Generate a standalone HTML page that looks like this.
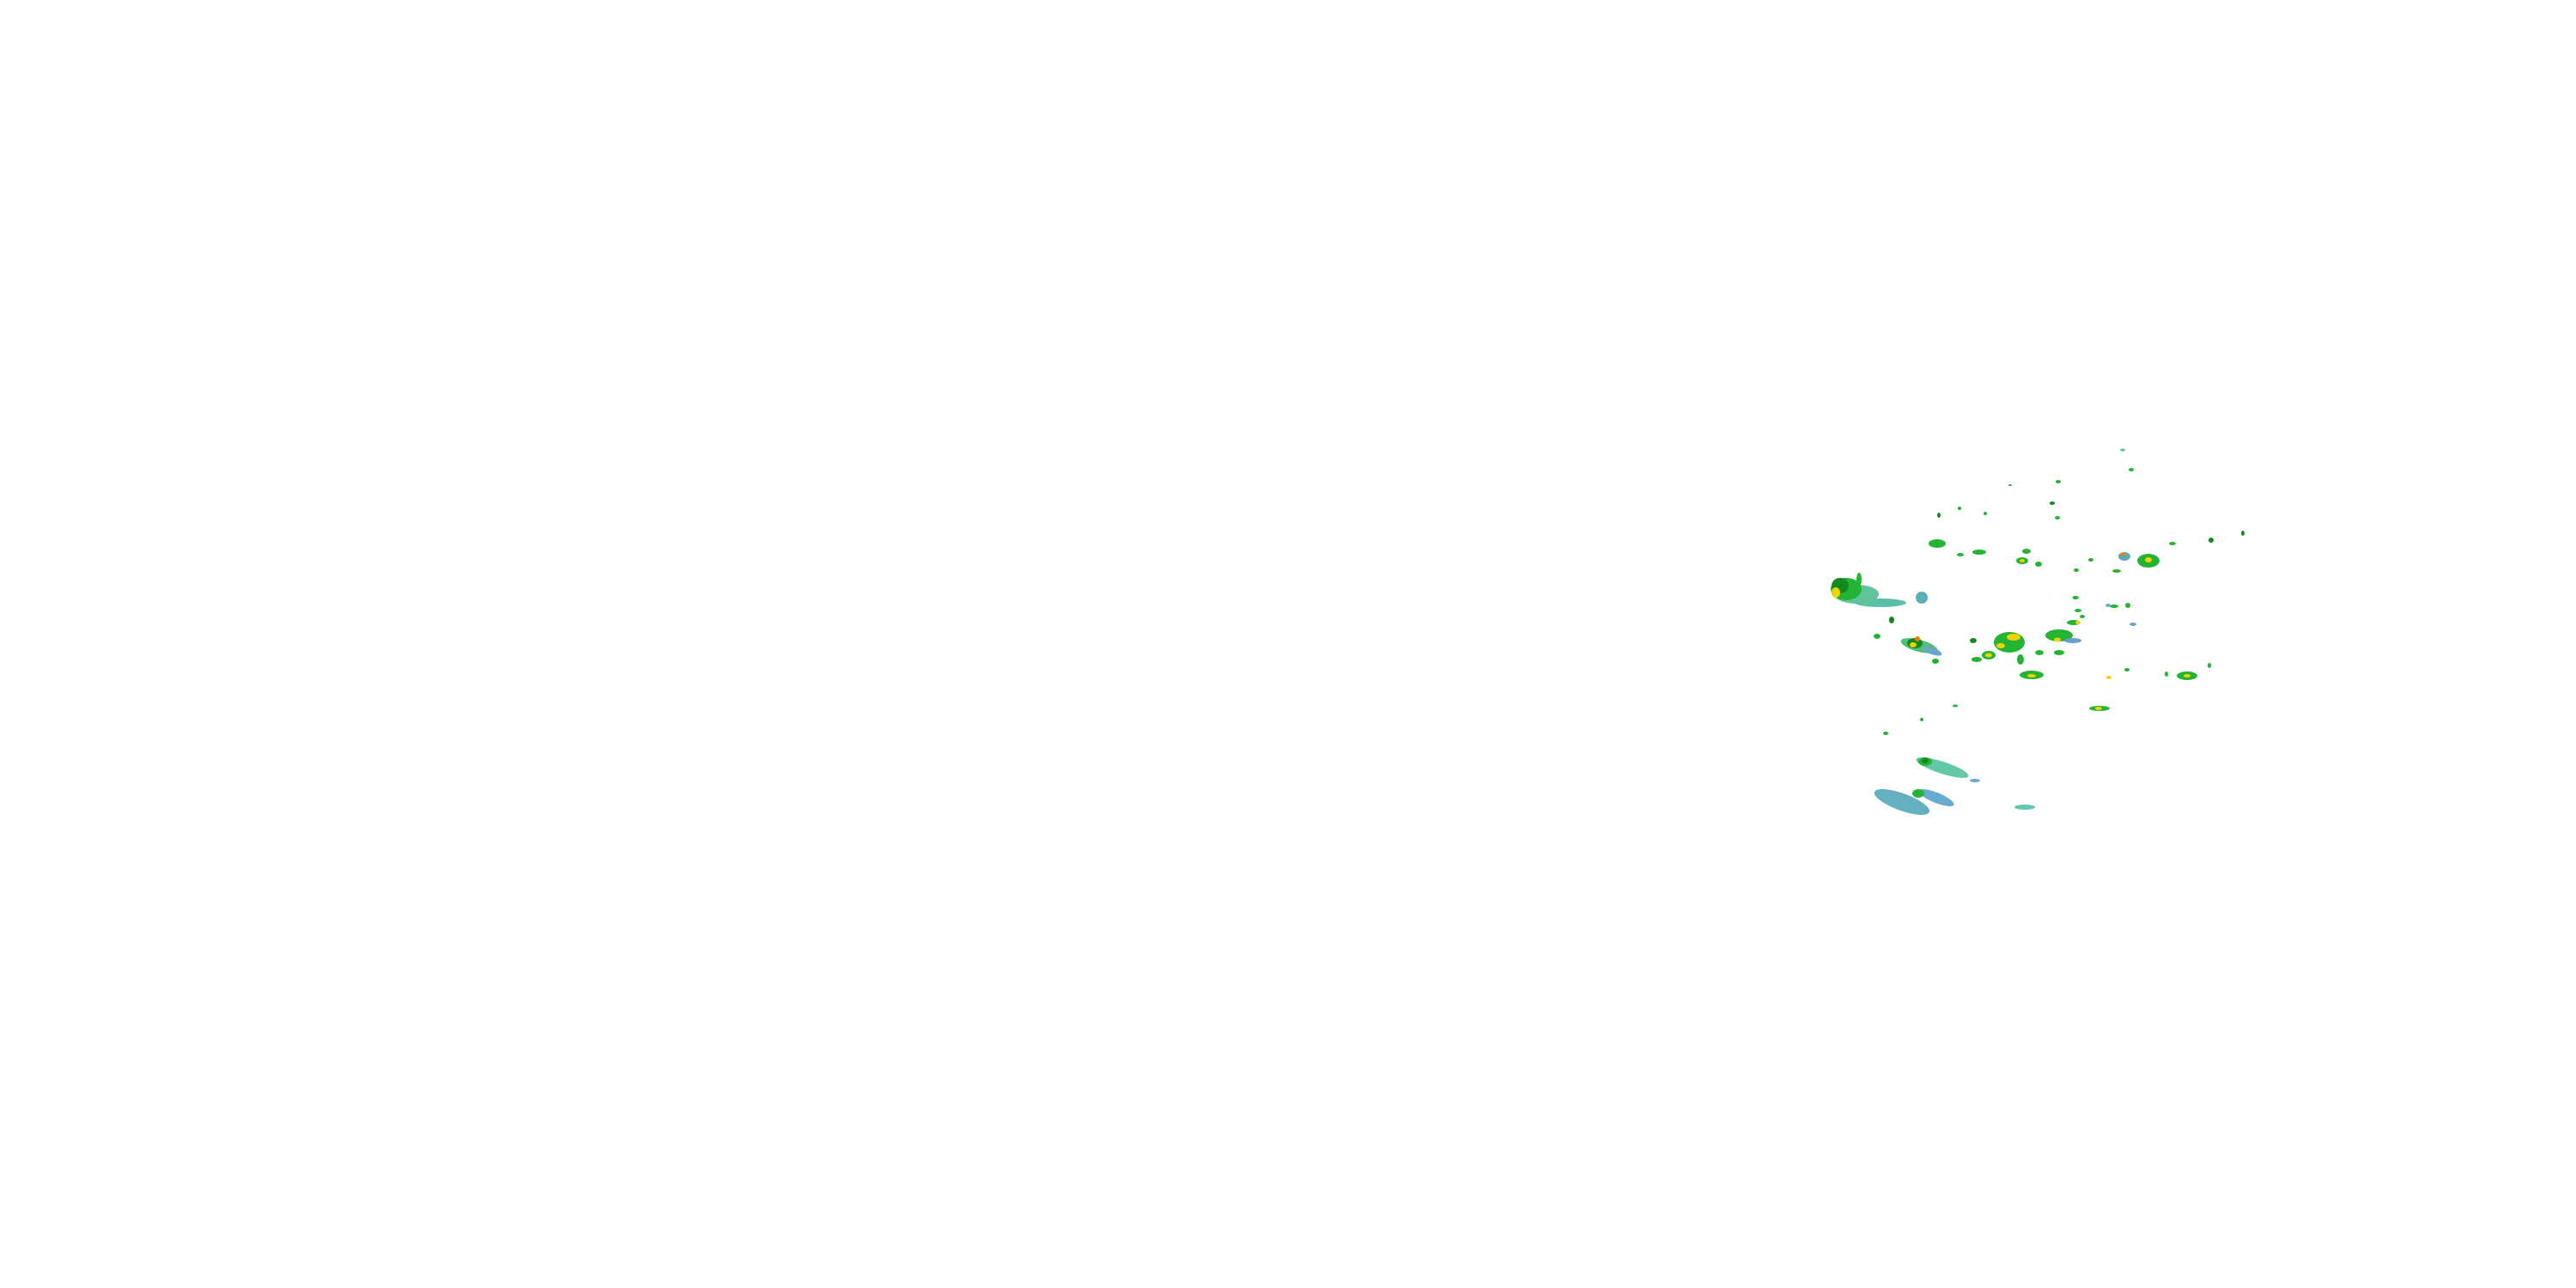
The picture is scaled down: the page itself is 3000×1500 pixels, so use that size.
<!DOCTYPE html>
<html><head><style>html,body{margin:0;padding:0;background:#fff}svg{display:block}</style></head>
<body>
<svg width="3000" height="1500" viewBox="0 0 3000 1500" xmlns="http://www.w3.org/2000/svg">
<rect width="3000" height="1500" fill="#fff"/>
<g>
<!-- big left storm -->
<ellipse cx="2190" cy="702" rx="30" ry="5" fill="#5cc0a8"/>
<ellipse cx="2162" cy="692" rx="26" ry="11" fill="#5fc49a"/>
<ellipse cx="2150" cy="686" rx="18" ry="13" fill="#22b432"/>
<ellipse cx="2143" cy="682" rx="10" ry="9" fill="#138a1e"/>
<ellipse cx="2138" cy="690" rx="5" ry="6" fill="#f2d200"/>
<ellipse cx="2165" cy="675" rx="3" ry="8" fill="#22b432"/>
<circle cx="2238" cy="696" r="7" fill="#5ab0b8"/>
<!-- storm middle-left -->
<ellipse cx="2235" cy="752" rx="22" ry="7" fill="#4fc07a" transform="rotate(15 2235 752)"/>
<ellipse cx="2250" cy="758" rx="12" ry="4" fill="#6aa6c8" transform="rotate(20 2250 758)"/>
<ellipse cx="2230" cy="749" rx="9" ry="6" fill="#138a1e"/>
<ellipse cx="2228" cy="751" rx="4" ry="3" fill="#f2d200"/>
<ellipse cx="2233" cy="744" rx="3" ry="3" fill="#f08000"/>
<!-- bottom storms -->
<ellipse cx="2215" cy="934" rx="34" ry="10" fill="#62b0c0" transform="rotate(20 2215 934)"/>
<ellipse cx="2255" cy="929" rx="22" ry="6" fill="#68aad0" transform="rotate(22 2255 929)"/>
<ellipse cx="2234" cy="924" rx="7" ry="5" fill="#22b432"/>
<ellipse cx="2262" cy="894" rx="32" ry="7" fill="#62c8a8" transform="rotate(18 2262 894)"/>
<ellipse cx="2242" cy="887" rx="8" ry="5" fill="#22b432"/>
<ellipse cx="2242" cy="886" rx="4" ry="3" fill="#138a1e"/>
<ellipse cx="2300" cy="909" rx="6" ry="2" fill="#68aad0"/>
<ellipse cx="2358" cy="940" rx="12" ry="3" fill="#5ec8b0"/>
<!-- central cluster -->
<ellipse cx="2340" cy="748" rx="18" ry="12" fill="#22b432"/>
<ellipse cx="2345" cy="742" rx="8" ry="4" fill="#f2d200"/>
<ellipse cx="2330" cy="752" rx="5" ry="3" fill="#f2d200"/>
<ellipse cx="2316" cy="763" rx="8" ry="5" fill="#22b432"/>
<ellipse cx="2316" cy="763" rx="4" ry="2.5" fill="#f2d200"/>
<ellipse cx="2353" cy="768" rx="4" ry="6" fill="#22b432"/>
<ellipse cx="2398" cy="740" rx="16" ry="7" fill="#22b432"/>
<ellipse cx="2414" cy="746" rx="10" ry="3" fill="#6a9ed0"/>
<ellipse cx="2396" cy="745" rx="4" ry="2.5" fill="#f2d200"/>
<ellipse cx="2366" cy="786" rx="14" ry="5" fill="#22b432"/>
<ellipse cx="2366" cy="787" rx="5" ry="2" fill="#f2d200"/>
<ellipse cx="2398" cy="760" rx="6" ry="3" fill="#22b432"/>
<ellipse cx="2375" cy="760" rx="5" ry="3" fill="#22b432"/>
<ellipse cx="2415" cy="725" rx="8" ry="3" fill="#22b432"/>
<ellipse cx="2420" cy="725" rx="3" ry="2" fill="#f2d200"/>
<ellipse cx="2298" cy="746" rx="4" ry="3" fill="#138a1e"/>
<ellipse cx="2302" cy="768" rx="6" ry="3" fill="#22b432"/>
<ellipse cx="2254" cy="770" rx="4" ry="3" fill="#22b432"/>
<ellipse cx="2186" cy="741" rx="4" ry="3" fill="#22b432"/>
<ellipse cx="2203" cy="722" rx="3" ry="4" fill="#138a1e"/>
<ellipse cx="2420" cy="711" rx="4" ry="2" fill="#22b432"/>
<ellipse cx="2417" cy="696" rx="4" ry="2" fill="#22b432"/>
<ellipse cx="2425" cy="718" rx="3" ry="2" fill="#22b432"/>
<ellipse cx="2455" cy="705" rx="3" ry="2" fill="#6ab0c8"/>
<ellipse cx="2462" cy="706" rx="5" ry="2" fill="#22b432"/>
<ellipse cx="2478" cy="705" rx="3" ry="3" fill="#22b432"/>
<ellipse cx="2484" cy="727" rx="4" ry="2" fill="#6aa6c8"/>
<ellipse cx="2477" cy="780" rx="3" ry="2" fill="#22b432"/>
<ellipse cx="2456" cy="789" rx="3" ry="2" fill="#f2d200"/>
<ellipse cx="2445" cy="825" rx="12" ry="3" fill="#22b432"/>
<ellipse cx="2444" cy="825" rx="4" ry="2" fill="#f2d200"/>
<ellipse cx="2547" cy="787" rx="12" ry="5" fill="#22b432"/>
<ellipse cx="2547" cy="787" rx="4" ry="2" fill="#f2d200"/>
<ellipse cx="2523" cy="785" rx="2" ry="3" fill="#22b432"/>
<ellipse cx="2573" cy="775" rx="2" ry="3" fill="#22b432"/>
<!-- upper cluster -->
<ellipse cx="2256" cy="633" rx="10" ry="5" fill="#22b432"/>
<ellipse cx="2305" cy="643" rx="8" ry="3" fill="#22b432"/>
<ellipse cx="2283" cy="646" rx="4" ry="2" fill="#22b432"/>
<ellipse cx="2355" cy="653" rx="7" ry="4" fill="#22b432"/>
<ellipse cx="2355" cy="653" rx="3" ry="2" fill="#f2d200"/>
<ellipse cx="2360" cy="642" rx="5" ry="3" fill="#22b432"/>
<ellipse cx="2374" cy="657" rx="4" ry="3" fill="#22b432"/>
<ellipse cx="2474" cy="648" rx="7" ry="5" fill="#5aa8b8"/>
<ellipse cx="2472" cy="646" rx="3" ry="2" fill="#f08000"/>
<ellipse cx="2502" cy="653" rx="13" ry="8" fill="#22b432"/>
<ellipse cx="2502" cy="652" rx="4" ry="3" fill="#f2d200"/>
<ellipse cx="2465" cy="665" rx="5" ry="2" fill="#22b432"/>
<ellipse cx="2530" cy="633" rx="4" ry="2" fill="#22b432"/>
<ellipse cx="2575" cy="629" rx="3" ry="3" fill="#138a1e"/>
<ellipse cx="2612" cy="621" rx="2" ry="3" fill="#138a1e"/>
<ellipse cx="2435" cy="652" rx="3" ry="2" fill="#22b432"/>
<ellipse cx="2418" cy="664" rx="3" ry="2" fill="#22b432"/>
<ellipse cx="2413" cy="696" rx="1" ry="1" fill="#fff"/>
<ellipse cx="2396" cy="603" rx="3" ry="2" fill="#22b432"/>
<ellipse cx="2390" cy="586" rx="3" ry="2" fill="#138a1e"/>
<ellipse cx="2397" cy="561" rx="3" ry="2" fill="#22b432"/>
<ellipse cx="2341" cy="565" rx="2" ry="1" fill="#22b432"/>
<ellipse cx="2258" cy="600" rx="2" ry="3" fill="#138a1e"/>
<ellipse cx="2282" cy="592" rx="2" ry="2" fill="#22b432"/>
<ellipse cx="2312" cy="598" rx="2" ry="2" fill="#22b432"/>
<ellipse cx="2482" cy="547" rx="3" ry="2" fill="#22b432"/>
<ellipse cx="2472" cy="524" rx="3" ry="1.5" fill="#5ac0a0"/>
<ellipse cx="2198" cy="723" rx="2" ry="1" fill="#fff"/>
<ellipse cx="2196" cy="854" rx="3" ry="2" fill="#22b432"/>
<ellipse cx="2238" cy="838" rx="2" ry="2" fill="#22b432"/>
<ellipse cx="2277" cy="822" rx="3" ry="1.5" fill="#22b432"/>
</g>
</svg>
</body></html>
